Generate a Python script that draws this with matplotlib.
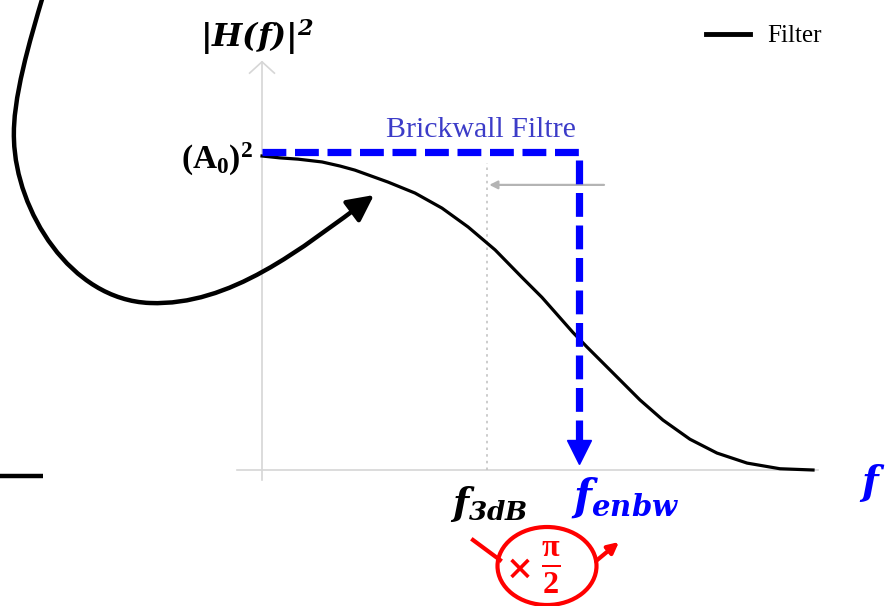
import numpy as np
import matplotlib.pyplot as plt
from matplotlib.patches import Ellipse, FancyArrowPatch
from matplotlib.path import Path

plt.rcParams['mathtext.fontset'] = 'custom'
plt.rcParams['mathtext.it'] = 'DejaVu Serif:italic:bold'
plt.rcParams['mathtext.rm'] = 'DejaVu Serif:italic:bold'
plt.rcParams['mathtext.bf'] = 'Liberation Serif:bold'

########### Data ###########

# frequency normalised so that f_3dB = 1
freq = [0.0, 0.080, 0.160, 0.267, 0.347, 0.413, 0.560, 0.680, 0.800, 0.916,
        1.036, 1.156, 1.244, 1.302, 1.382, 1.444, 1.560, 1.680, 1.782, 1.902,
        2.022, 2.156, 2.302, 2.449]
# |H(f)|^2 normalised to (A0)^2
gain = [1.0, 0.994, 0.990, 0.981, 0.968, 0.955, 0.917, 0.882, 0.834, 0.774,
        0.701, 0.613, 0.550, 0.503, 0.438, 0.392, 0.309, 0.223, 0.159, 0.098,
        0.054, 0.022, 0.004, 0.0]

f3dB = 1.0
fenbw = 1.41
A0sq = 1.0
brick_level = 1.013

########### Figure ###########

fig = plt.figure(figsize=(8.95, 6.06), dpi=100)

# main chart axes (225 px per f unit, 314 px per gain unit)
ax = fig.add_axes([0, 0, 1, 1])
ax.set_xlim(-262 / 225, (895 - 262) / 225)
ax.set_ylim(-136 / 314, (606 - 136) / 314)
ax.axis('off')

# overlay in pixel coordinates for the free annotations
ov = fig.add_axes([0, 0, 1, 1], facecolor='none')
ov.set_xlim(0, 895)
ov.set_ylim(606, 0)
ov.axis('off')

grey = '#d6d6d6'
# axes lines
ax.plot([-0.11, 2.47], [0, 0], color=grey, lw=1.2, zorder=1)
ax.plot([0, 0], [-0.032, 1.30], color=grey, lw=1.2, zorder=1)
ax.plot([-0.055, 0, 0.055], [1.264, 1.30, 1.264], color=grey, lw=1.2, zorder=1)

# dotted marker at f_3dB
ax.plot([f3dB, f3dB], [0, 0.978], color='#c4c4c4', lw=1.2, ls=(0, (1.5, 2.5)), zorder=1)

# filter response
ax.plot(freq, gain, color='black', lw=2.3, label='Filter', zorder=3,
        solid_joinstyle='round')

# brickwall filter
ax.plot([0, fenbw, fenbw], [brick_level, brick_level, 0.096], color='blue', lw=5.2,
        dashes=(3.3, 1.2), solid_joinstyle='miter', dash_capstyle='butt', zorder=4)
ax.plot([fenbw], [0.057], marker='v', color='blue', markersize=17, zorder=4)

# grey arrow
ax.annotate('', xy=(f3dB + 0.01, 0.908), xytext=(1.52, 0.908),
            arrowprops=dict(arrowstyle='-|>', color='#b4b4b4', lw=1.6,
                            mutation_scale=12, shrinkA=0, shrinkB=0), zorder=2)

# labels
ax.text(-0.02, 1.38, r'$|H(f)|^2$', fontsize=23, ha='center', va='center')
ax.text(-0.04, 0.99, r'$\mathbf{(A_0)^2}$', fontsize=24, ha='right', va='center')
ax.text(0.973, 1.083, 'Brickwall Filtre', fontsize=21.5, family='Liberation Serif',
        color='#3c3cc8', ha='center', va='center')
ax.text(f3dB + 0.01, -0.111, r'$f_{3dB}$', fontsize=27, ha='center', va='center')
ax.text(fenbw - 0.035, -0.089, r'$f_{enbw}$', fontsize=30, ha='left', va='center',
        color='blue')
ax.text(2.655, -0.04, r'$f$', fontsize=28, ha='left', va='center', color='blue')

leg = ax.legend(loc='upper left', bbox_to_anchor=(706 / 895, 1 - 25 / 606),
                frameon=False, prop={'family': 'Liberation Serif', 'size': 18},
                handlelength=1.75, handletextpad=0.7, borderpad=0, borderaxespad=0)
leg.get_lines()[0].set_linewidth(3.5)

# swooping black arrow
swoosh = Path([(43, -4), (30, 40), (12, 100), (14, 140),
               (16, 210), (70, 300), (150, 303),
               (230, 306), (300, 250), (374, 195)],
              [Path.MOVETO] + [Path.CURVE4] * 9)
ov.add_patch(FancyArrowPatch(path=swoosh, arrowstyle='-|>', mutation_scale=40,
                             color='black', lw=3.2, shrinkA=0, shrinkB=0))
ov.plot([0, 43], [476, 476], color='black', lw=3.2, solid_capstyle='butt')

# x pi/2 bubble
ov.add_patch(Ellipse((547, 566), 99, 78, fill=False, ec='red', lw=3))
ov.plot([473, 500], [540, 560], color='red', lw=3)
ov.annotate('', xy=(619, 542), xytext=(596, 561),
            arrowprops=dict(arrowstyle='-|>', color='red', lw=3, mutation_scale=16,
                            shrinkA=0, shrinkB=0))
ov.text(518, 569, r'$\times$', fontsize=24, color='red', ha='center', va='center',
        family='DejaVu Sans')
ov.text(551, 568, r'$\mathbf{\frac{\pi}{2}}$', fontsize=33, color='red',
        ha='center', va='center')

fig.savefig('out.png', dpi=100)
